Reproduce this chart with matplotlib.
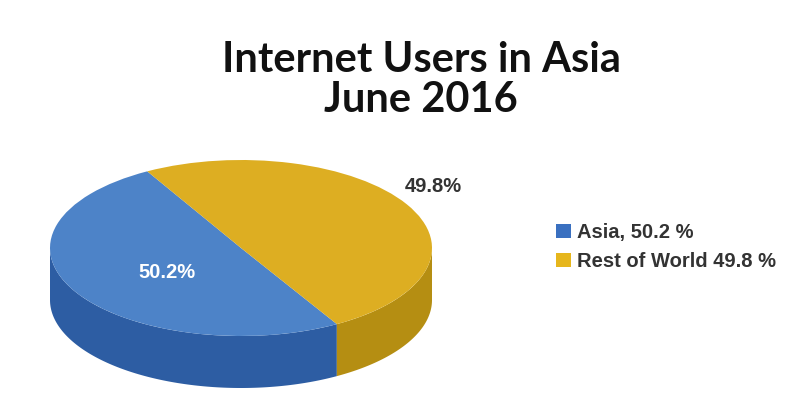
import numpy as np
import matplotlib.pyplot as plt
from matplotlib.patches import Polygon, Patch

# data
labels = ['Asia', 'Rest of World']
shares = [50.2, 49.8]
value_labels = ['50.2%', '49.8%']
legend_labels = ['Asia, 50.2 %', 'Rest of World 49.8 %']
title = 'Internet Users in Asia\nJune 2016'

top_colors = ['#4d83c8', '#ddae22']
side_colors = ['#2d5da3', '#b58e12']
key_colors = ['#3a70c0', '#e6b61c']

W, H = 800, 401
fig = plt.figure(figsize=(W / 100, H / 100), dpi=100)
ax = fig.add_axes([0, 0, 1, 1])

# pie geometry in pixels (from bottom-left)
cx, cy = 241, 153
rx, ry = 191, 88
depth = 52 / ry

wedges, _ = ax.pie(shares, colors=top_colors, startangle=119.4, counterclock=True,
                   radius=1, center=(0, 0),
                   wedgeprops=dict(linewidth=0, zorder=3))

# front side of the disc
for w, c in zip(wedges, side_colors):
    lo, hi = max(w.theta1, 180), min(w.theta2, 360)
    if lo >= hi:
        continue
    th = np.radians(np.linspace(lo, hi, 120))
    x, y = np.cos(th), np.sin(th)
    pts = np.column_stack([np.concatenate([x, x[::-1]]),
                           np.concatenate([y, y[::-1] - depth])])
    ax.add_patch(Polygon(pts, closed=True, fc=c, ec='none', zorder=2))

ax.set_aspect('auto')
ax.set_xlim(-cx / rx, (W - cx) / rx)
ax.set_ylim(-cy / ry, (H - cy) / ry)
ax.axis('off')

fig.text(167 / W, 1 - 272 / H, value_labels[0], color='white', fontsize=14.5,
         fontweight='bold', family='Liberation Sans', ha='center', va='center')
fig.text(433 / W, 1 - 186 / H, value_labels[1], color='#333333', fontsize=14.5,
         fontweight='bold', family='Liberation Sans', ha='center', va='center')

fig.text(421 / W, 1 - 80 / H, title, fontsize=30, fontweight='bold', family='Lato',
         ha='center', va='center', linespacing=1.05, color='#111111')

handles = [Patch(fc=c, ec='none') for c in key_colors]
fig.legend(handles, legend_labels, loc='center left',
           bbox_to_anchor=(538 / W, 1 - 247 / H), frameon=False,
           handlelength=0.75, handleheight=0.75, handletextpad=0.3, labelspacing=0.5,
           prop=dict(family='Liberation Sans', weight='bold', size=14.5),
           labelcolor='#333333')

fig.savefig('out.png', dpi=100, facecolor='white')
